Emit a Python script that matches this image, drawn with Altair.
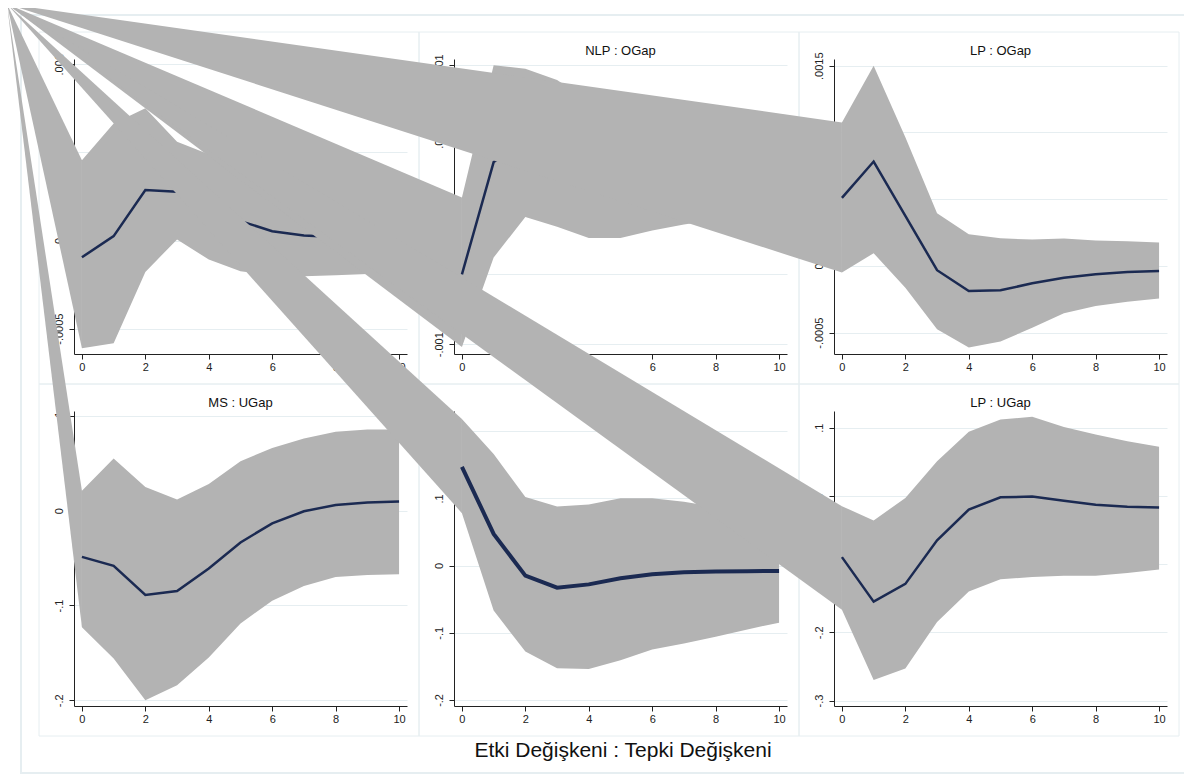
import altair as alt
import pandas as pd

steps = [0, 1, 2, 3, 4, 5, 6, 7, 8, 9, 10]

# MS : OGap
ms_ogap_irf = [-0.000095, 0.000025, 0.000287, 0.000277, 0.00019, 0.00011, 0.000053, 0.000028, 0.00002, 0.000015, 0.00001]
ms_ogap_lo = [-0.000611, -0.000583, -0.000178, 0.000006, -0.000108, -0.000175, -0.000197, -0.000203, -0.000197, -0.00019, -0.00018]
ms_ogap_hi = [0.000455, 0.000664, 0.00075, 0.00056, 0.00049, 0.000395, 0.0003, 0.00026, 0.000237, 0.00022, 0.0002]

# NLP : OGap
nlp_ogap_irf = [-0.0005, 0.000303, 0.00044, 0.000365, 0.00025, 0.00015, 0.0001, 0.00007, 0.00005, 0.00004, 0.00003]
nlp_ogap_lo = [-0.00102, -0.00038, -0.00009, -0.00016, -0.00024, -0.00024, -0.000186, -0.000143, -0.00011, -0.0001, -0.00009]
nlp_ogap_hi = [0.00005, 0.000995, 0.00097, 0.00089, 0.00074, 0.00054, 0.00039, 0.00028, 0.00021, 0.00018, 0.00015]

# LP : OGap
lp_ogap_irf = [0.00051, 0.000782, 0.000375, -0.000032, -0.000188, -0.000183, -0.00013, -0.000088, -0.000063, -0.000045, -0.000038]
lp_ogap_lo = [-0.00005, 0.000095, -0.000163, -0.000475, -0.000612, -0.000567, -0.000463, -0.000355, -0.0003, -0.000268, -0.000245]
lp_ogap_hi = [0.001075, 0.0015, 0.000963, 0.000395, 0.000237, 0.000207, 0.000197, 0.000205, 0.00019, 0.000185, 0.000175]

# MS : UGap
ms_ugap_irf = [-0.0488, -0.0583, -0.089, -0.0848, -0.061, -0.0336, -0.0134, -0.0007, 0.006, 0.0085, 0.0095]
ms_ugap_lo = [-0.123, -0.156, -0.2, -0.184, -0.155, -0.119, -0.095, -0.0795, -0.07, -0.068, -0.067]
ms_ugap_hi = [0.021, 0.055, 0.025, 0.0117, 0.028, 0.052, 0.066, 0.076, 0.083, 0.0855, 0.0855]

# NLP : UGap
nlp_ugap_irf = [0.147, 0.047, -0.015, -0.033, -0.028, -0.019, -0.013, -0.010, -0.009, -0.0085, -0.008]
nlp_ugap_lo = [0.078, -0.067, -0.128, -0.153, -0.154, -0.141, -0.125, -0.116, -0.106, -0.095, -0.085]
nlp_ugap_hi = [0.218, 0.166, 0.102, 0.088, 0.091, 0.100, 0.100, 0.095, 0.087, 0.078, 0.069]

# LP : UGap
lp_ugap_irf = [-0.0897, -0.155, -0.129, -0.065, -0.020, -0.002, -0.001, -0.007, -0.013, -0.016, -0.017]
lp_ugap_lo = [-0.167, -0.270, -0.253, -0.185, -0.140, -0.122, -0.119, -0.117, -0.117, -0.113, -0.108]
lp_ugap_hi = [-0.015, -0.036, -0.003, 0.051, 0.094, 0.112, 0.116, 0.101, 0.090, 0.080, 0.072]

titles = ["MS : OGap", "NLP : OGap", "LP : OGap", "MS : UGap", "NLP : UGap", "LP : UGap"]
irfs = [ms_ogap_irf, nlp_ogap_irf, lp_ogap_irf, ms_ugap_irf, nlp_ugap_irf, lp_ugap_irf]
los = [ms_ogap_lo, nlp_ogap_lo, lp_ogap_lo, ms_ugap_lo, nlp_ugap_lo, lp_ugap_lo]
his = [ms_ogap_hi, nlp_ogap_hi, lp_ogap_hi, ms_ugap_hi, nlp_ugap_hi, lp_ugap_hi]
domains = [[-0.000644, 0.00103], [-0.00107, 0.00104], [-0.00066, 0.00155],
           [-0.206, 0.105], [-0.209, 0.23], [-0.308, 0.1245]]
yticks = [[-0.0005, 0, 0.0005, 0.001],
          [-0.001, -0.0005, 0, 0.0005, 0.001],
          [-0.0005, 0, 0.0005, 0.001, 0.0015],
          [-0.2, -0.1, 0, 0.1],
          [-0.2, -0.1, 0, 0.1, 0.2],
          [-0.3, -0.2, -0.1, 0, 0.1]]
xticks = [0, 2, 4, 6, 8, 10]
caption = "Etki Değişkeni : Tepki Değişkeni"

FONT = "Liberation Sans"
GREY = "#b3b3b3"
NAVY = "#1b2a52"
FRAME = "#e6eef1"
W, H = 333, 295
COL_SP, ROW_SP = 47, 57
ORIGIN = (74, 58)          # page position of the first plot area
APEX = (7, 3)              # page corner from which the source's band polygons start
XDOM = [-0.25, 10.25]
line_widths = [2.5, 2.5, 2.5, 2.5, 4, 2.5]


def panel(i):
    r, c = divmod(i, 3)
    df = pd.DataFrame({"step": steps, "irf": irfs[i], "lo": los[i], "hi": his[i]})
    xs = alt.Scale(domain=XDOM, nice=False, zero=False)
    ys = alt.Scale(domain=domains[i], nice=False, zero=False)
    xaxis = alt.Axis(values=xticks, title=None, grid=False)
    yaxis = alt.Axis(values=yticks[i], title=None, grid=True,
                     labelExpr="replace(toString(datum.value), '0.', '.')",
                     labelAngle=270, labelAlign="center", labelBaseline="bottom",
                     labelPadding=5)
    base = alt.Chart(df)
    band = base.mark_area(color=GREY, opacity=1).encode(
        x=alt.X("step:Q", scale=xs, axis=xaxis),
        y=alt.Y("hi:Q", scale=ys, axis=yaxis),
        y2="lo:Q",
    )
    # the source renderer closed each band polygon through the page corner:
    # a wedge from that corner to the band's first interval
    left = ORIGIN[0] + c * (W + COL_SP)
    top = ORIGIN[1] + r * (H + ROW_SP)
    dlo, dhi = domains[i]
    ax = XDOM[0] + (APEX[0] - left) / W * (XDOM[1] - XDOM[0])
    ay = dhi - (APEX[1] - top) / H * (dhi - dlo)
    wedge_df = pd.DataFrame({"step": [ax, steps[0]], "hi": [ay, his[i][0]], "lo": [ay, los[i][0]]})
    wedge = alt.Chart(wedge_df).mark_area(color=GREY, opacity=1).encode(
        x=alt.X("step:Q", scale=xs, axis=xaxis),
        y=alt.Y("hi:Q", scale=ys, axis=yaxis),
        y2="lo:Q",
    )
    line = base.mark_line(color=NAVY, strokeWidth=line_widths[i]).encode(
        x=alt.X("step:Q", scale=xs, axis=xaxis),
        y=alt.Y("irf:Q", scale=ys, axis=yaxis),
    )
    frame = alt.Chart(alt.Data(values=[{"k": 1}])).mark_rect(
        fillOpacity=0, stroke=FRAME, strokeWidth=1
    ).encode(x=alt.value(-35), x2=alt.value(345), y=alt.value(-27), y2=alt.value(325))
    ttl = alt.Chart(alt.Data(values=[{"t": titles[i]}])).mark_text(
        font=FONT, fontSize=13, color="#111", align="center", baseline="alphabetic"
    ).encode(text="t:N", x=alt.value(W / 2), y=alt.value(-4))
    layers = [frame, ttl, wedge, band, line]
    if i == 0:
        outer = alt.Chart(alt.Data(values=[{"k": 1}])).mark_rect(
            fillOpacity=0, stroke=FRAME, strokeWidth=2
        ).encode(x=alt.value(-53), x2=alt.value(1145), y=alt.value(-44), y2=alt.value(714))
        cap = alt.Chart(alt.Data(values=[{"t": caption}])).mark_text(
            font=FONT, fontSize=21, color="#111", align="center", baseline="middle"
        ).encode(text="t:N", x=alt.value(549), y=alt.value(692))
        layers = [outer, cap] + layers
    return alt.layer(*layers).properties(width=W, height=H)


# content bounds start at the wedge apex, which lies just outside the page body;
# the outer frame runs past the right edge of the picture, as in the source
pad_left = APEX[0] - 8
pad_top = APEX[1] - 8
pad_right = 1184 - (ORIGIN[0] + 1145 + 1)

chart = alt.concat(*[panel(i) for i in range(6)], columns=3,
                   spacing={"row": ROW_SP, "column": COL_SP}, bounds="flush").properties(
    padding={"left": pad_left, "top": pad_top, "right": pad_right, "bottom": 0},
    background="white",
).configure_view(strokeWidth=0).configure_axis(
    domainColor="#222", tickColor="#222", tickSize=5, labelFontSize=11,
    labelFont=FONT, labelColor="#222", gridColor=FRAME, domainWidth=1, tickWidth=1,
)

chart.save("out.html", embed_options={"renderer": "svg", "actions": False})
